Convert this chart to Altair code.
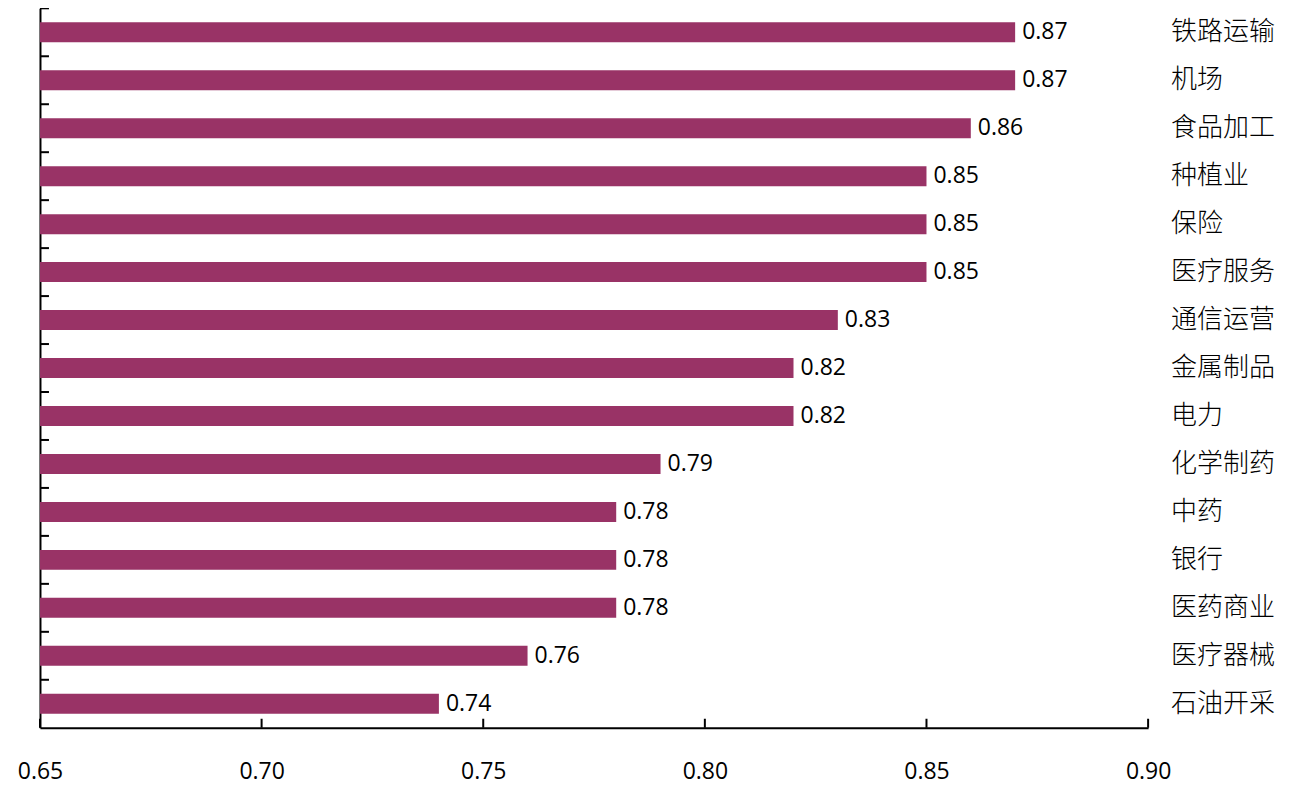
import altair as alt
import pandas as pd

categories = ["铁路运输", "机场", "食品加工", "种植业", "保险", "医疗服务", "通信运营",
              "金属制品", "电力", "化学制药", "中药", "银行", "医药商业", "医疗器械", "石油开采"]
values = [0.87, 0.87, 0.86, 0.85, 0.85, 0.85, 0.83, 0.82, 0.82, 0.79, 0.78, 0.78, 0.78, 0.76, 0.74]
x_ticks = [0.65, 0.70, 0.75, 0.80, 0.85, 0.90]

df = pd.DataFrame({"cat": categories, "val": values})
ticks_df = pd.DataFrame({"t": x_ticks})

W, H = 1109, 720
COLOR = "#993366"
xscale = alt.Scale(domain=[0.65, 0.90], nice=False, zero=False, clamp=True)
yscale = alt.Scale(domain=categories, paddingInner=0, paddingOuter=0)

base = alt.Chart(df)

bars = base.mark_bar(size=20, color=COLOR).encode(
    x=alt.X("val:Q", scale=xscale,
            axis=alt.Axis(values=x_ticks, format=".2f", title=None, grid=False,
                          ticks=False, domain=True, domainColor="black", domainWidth=2,
                          labelFont="Open Sans", labelFontSize=23, labelColor="black",
                          labelFlush=False, labelPadding=33)),
    x2=alt.datum(0.65),
    y=alt.Y("cat:N", scale=yscale, sort=categories,
            axis=alt.Axis(title=None, labels=False, ticks=False, domain=True,
                          domainColor="black", domainWidth=2, grid=False)),
)

vlabels = base.mark_text(align="left", baseline="middle", dx=7, font="Open Sans",
                         fontSize=23, color="black").encode(
    x=alt.X("val:Q", scale=xscale),
    y=alt.Y("cat:N", scale=yscale, sort=categories),
    text=alt.Text("val:Q", format=".2f"),
)

clabels = base.mark_text(align="left", baseline="middle", font="Noto Sans CJK SC",
                         fontSize=26, fontWeight=300, color="black").encode(
    x=alt.value(W + 23),
    y=alt.Y("cat:N", scale=yscale, sort=categories),
    text="cat:N",
)

yticks = base.mark_rule(color="black", strokeWidth=2).encode(
    x=alt.value(0), x2=alt.value(9),
    y=alt.Y("cat:N", scale=yscale, sort=categories, bandPosition=0),
)

xticks = alt.Chart(ticks_df).mark_rule(color="black", strokeWidth=2).encode(
    x=alt.X("t:Q", scale=xscale),
    y=alt.value(H - 9), y2=alt.value(H),
)

chart = alt.layer(bars, vlabels, clabels, yticks, xticks).properties(
    width=W, height=H,
    autosize=alt.AutoSizeParams(type="none"),
    padding={"left": 32, "top": 0, "right": 140, "bottom": 60},
).configure(background="white").configure_view(strokeWidth=0, stroke="transparent")

chart.save("out.html", embed_options={"renderer": "svg", "actions": False})
